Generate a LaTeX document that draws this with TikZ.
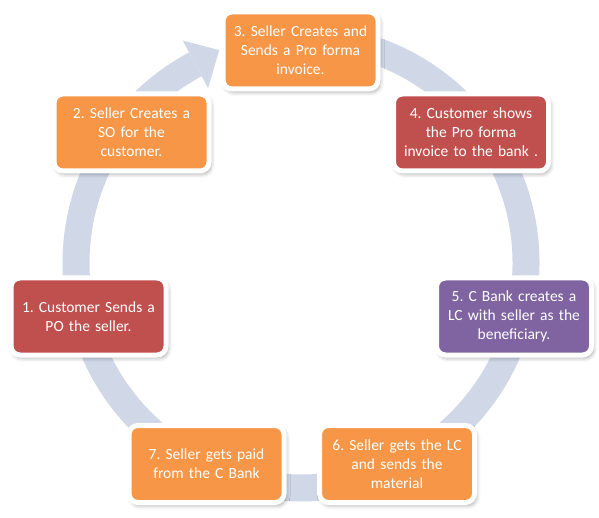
\documentclass[tikz,border=0pt]{standalone}
\usepackage{fontspec}
\setmainfont{Carlito}
\usetikzlibrary{shadows.blur}
\definecolor{ringc}{HTML}{D0D8E8}
\definecolor{orangec}{HTML}{F79646}
\definecolor{redc}{HTML}{C0504D}
\definecolor{purplec}{HTML}{8064A2}
\frenchspacing
\begin{document}
\begin{tikzpicture}[x=1pt,y=1pt,
  stepbox/.style={draw=white, line width=5pt, rounded corners=9pt,
    minimum width=155pt, minimum height=77pt, text width=148pt, align=center,
    text=white, inner sep=0pt,
    font=\fontsize{15.5pt}{19pt}\selectfont,
    blur shadow={shadow xshift=2pt, shadow yshift=-3pt, shadow opacity=35, shadow blur radius=4pt}},
  ring/.style={draw=ringc, line width=27pt}]
\useasboundingbox (0,0) rectangle (599,517);
\coordinate (c) at (301,254);
% ring with arrow head
\draw[ring] ([shift={(85:225)}]c) arc[start angle=85, end angle=-242, radius=225];
\fill[ringc] ([shift={(118:198)}]c) -- ([shift={(118:252)}]c) -- ([shift={(111:228)}]c) -- cycle;
% boxes
\node[stepbox, fill=redc]    (s1) at (88.5,200.5) {1. Customer Sends a\\PO the seller.};
\node[stepbox, fill=orangec] (s2) at (131.5,384.5) {2. Seller Creates a\\SO for the\\customer.};
\node[stepbox, fill=orangec] (s3) at (300.5,466.5) {3. Seller Creates and\\Sends a Pro forma\\invoice.};
\node[stepbox, fill=redc]    (s4) at (471,384.5) {4. Customer shows\\the Pro forma\\invoice to the bank .};
\node[stepbox, fill=purplec] (s5) at (514,200.5) {5. C Bank creates a\\LC with seller as the\\beneficiary.};
\node[stepbox, fill=orangec] (s6) at (397,53) {6. Seller gets the LC\\and sends the\\material};
\node[stepbox, fill=orangec] (s7) at (206.5,53) {7. Seller gets paid\\from the C Bank};
\end{tikzpicture}
\end{document}
